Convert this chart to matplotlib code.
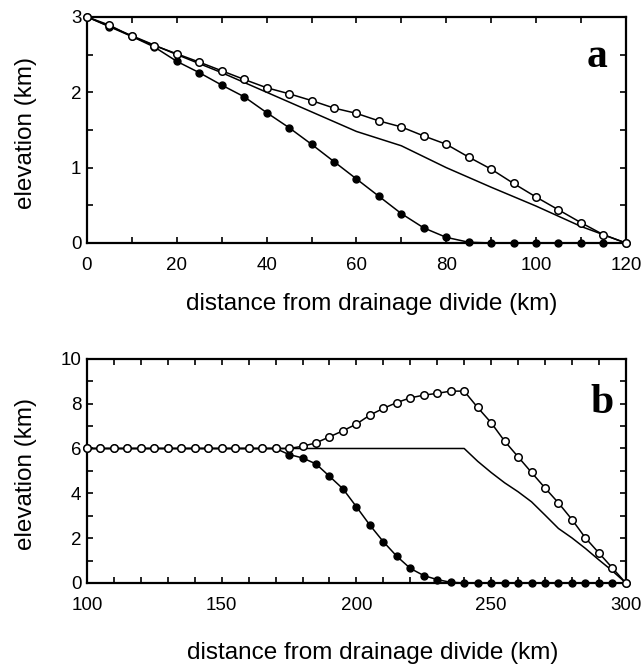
import matplotlib.pyplot as plt
from matplotlib.ticker import MultipleLocator

plt.rcParams['font.family'] = ['Liberation Sans', 'DejaVu Sans']

# panel a
xa = list(range(0, 121, 5))
open_a = [3.0, 2.89, 2.74, 2.62, 2.51, 2.40, 2.285, 2.17, 2.06, 1.98, 1.89,
          1.79, 1.72, 1.62, 1.54, 1.42, 1.31, 1.14, 0.98, 0.79, 0.61, 0.44,
          0.27, 0.11, 0.0]
fill_a = [3.0, 2.87, 2.74, 2.60, 2.41, 2.26, 2.095, 1.94, 1.73, 1.53, 1.31,
          1.08, 0.85, 0.62, 0.39, 0.20, 0.075, 0.01, 0, 0, 0, 0, 0, 0, 0]
xa_line = [0, 10, 20, 30, 40, 50, 60, 70, 80, 90, 100, 110, 120]
line_a = [3.0, 2.75, 2.5, 2.26, 2.0, 1.74, 1.48, 1.29, 1.0, 0.74, 0.49, 0.22, 0.0]

# panel b
xb = list(range(100, 301, 5))
open_b = [6.0] * 14 + [6.0, 6.0, 6.1, 6.25, 6.52, 6.79, 7.09, 7.49, 7.79,
                       8.05, 8.26, 8.38, 8.46, 8.56, 8.56, 7.83, 7.15, 6.33,
                       5.63, 4.93, 4.24, 3.57, 2.83, 2.01, 1.34, 0.67, 0.0]
fill_b = [6.0] * 14 + [6.0, 5.73, 5.58, 5.31, 4.76, 4.2, 3.4, 2.58, 1.84,
                       1.19, 0.65, 0.33, 0.15, 0.03] + [0.0] * 13
xb_line = [100, 240, 245, 250, 255, 260, 265, 270, 275, 280, 285, 290, 295, 300]
line_b = [6.0, 6.0, 5.43, 4.93, 4.47, 4.07, 3.62, 3.03, 2.43, 2.01, 1.54, 1.03, 0.54, 0.0]

fig = plt.figure(figsize=(6.43, 6.67), dpi=100)
ax1 = fig.add_axes([0.1353, 0.6357, 0.838, 0.339])
ax2 = fig.add_axes([0.1353, 0.126, 0.838, 0.336])


def style(ax, xmaj, xmin, ymaj, ymin):
    for s in ax.spines.values():
        s.set_linewidth(1.6)
    ax.xaxis.set_major_locator(MultipleLocator(xmaj))
    ax.xaxis.set_minor_locator(MultipleLocator(xmin))
    ax.yaxis.set_major_locator(MultipleLocator(ymaj))
    ax.yaxis.set_minor_locator(MultipleLocator(ymin))
    ax.tick_params(which='both', direction='in', top=True, right=True,
                   length=4, width=1.2, labelsize=13.5)
    ax.tick_params(axis='x', pad=10)
    ax.tick_params(axis='y', pad=4)
    ax.set_ylabel('elevation (km)', fontsize=17.5)
    ax.yaxis.set_label_coords(-0.093, 0.485)


def draw(ax, x, yo, yf, xl, yl):
    ax.plot(xl, yl, color='black', lw=1.1, zorder=3)
    ax.plot(x, yf, color='black', lw=1.1, marker='o', ms=5,
            mfc='black', mec='black', clip_on=False, zorder=4)
    ax.plot(x, yo, color='black', lw=1.1, marker='o', ms=5.4,
            mfc='white', mec='black', mew=1.1, clip_on=False, zorder=5)


draw(ax1, xa, open_a, fill_a, xa_line, line_a)
draw(ax2, xb, open_b, fill_b, xb_line, line_b)

ax1.set_xlim(0, 120)
ax1.set_ylim(0, 3)
style(ax1, 20, 10, 1, 0.5)
ax1.set_xlabel('distance from drainage divide (km)', fontsize=17.5, labelpad=14)
ax1.xaxis.label.set_x(0.528)
ax1.text(0.946, 0.823, 'a', transform=ax1.transAxes, ha='center', va='center',
         fontsize=30, fontweight='bold', family='Liberation Serif')

ax2.set_xlim(100, 300)
ax2.set_ylim(0, 10)
style(ax2, 50, 10, 2, 1)
ax2.set_xlabel('distance from drainage divide (km)', fontsize=17.5, labelpad=20)
ax2.xaxis.label.set_x(0.531)
ax2.text(0.955, 0.805, 'b', transform=ax2.transAxes, ha='center', va='center',
         fontsize=30, fontweight='bold', family='Liberation Serif')

fig.savefig('out.png', dpi=100)
